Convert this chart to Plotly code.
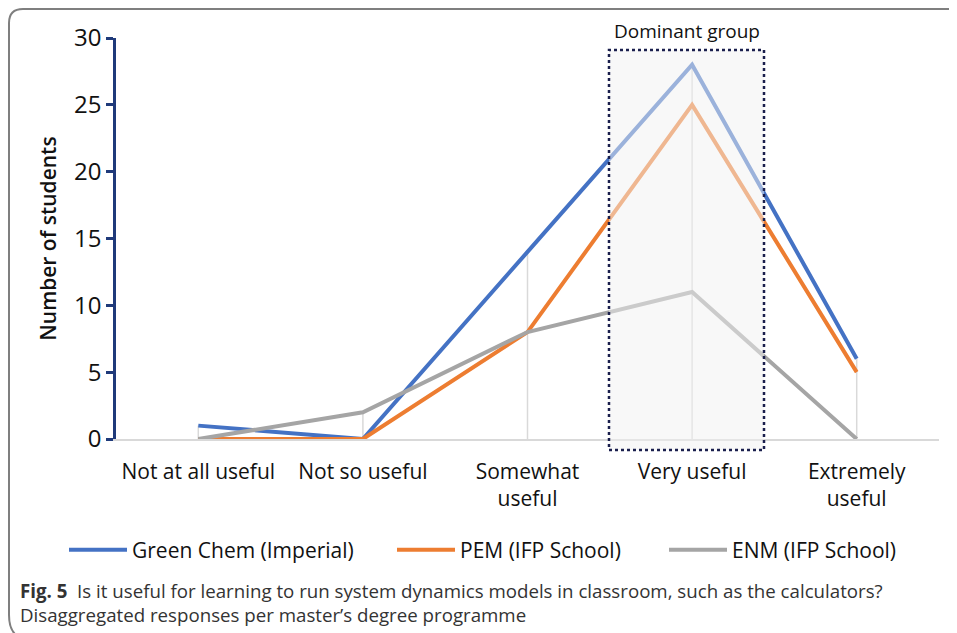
import plotly.graph_objects as go

categories = ["Not at all useful", "Not so useful", "Somewhat<br>useful", "Very useful", "Extremely<br>useful"]
green_chem = [1, 0, 14, 28, 6]
pem = [0, 0, 8, 25, 5]
enm = [0, 2, 8, 11, 0]
series_names = ["Green Chem (Imperial)", "PEM (IFP School)", "ENM (IFP School)"]
y_ticks = [0, 5, 10, 15, 20, 25, 30]

# page body has an 8px margin; work in screen pixels and convert
OFF = 8
W, H = 957 - OFF, 633 - OFF
L = 116 - OFF
T = 38 - OFF
PLOT_R = 939 - OFF
PLOT_B = 439 - OFF
R = W - PLOT_R
B = H - PLOT_B
pw, ph = PLOT_R - L, PLOT_B - T

def px(x):
    return (x - OFF - L) / pw

def py(y):
    return (PLOT_B - (y - OFF)) / ph

FONT = "Open Sans, Noto Sans, sans-serif"
fig = go.Figure()

xs = list(range(len(categories)))
# drop lines
dx, dy = [], []
for i, vals in enumerate(zip(green_chem, pem, enm)):
    dx += [i, i, None]
    dy += [0, max(vals), None]
fig.add_trace(go.Scatter(x=dx, y=dy, mode="lines", line=dict(color="#d9d9d9", width=1.5),
                         showlegend=False, hoverinfo="skip"))

colors = ["#4472C4", "#ED7D31", "#A5A5A5"]
legend_ids = ["legend", "legend2", "legend3"]
for name, vals, c, lg in zip(series_names, [green_chem, pem, enm], colors, legend_ids):
    fig.add_trace(go.Scatter(x=xs, y=vals, mode="lines", name=name, legend=lg,
                             line=dict(color=c, width=4)))

shapes = []
# dominant group box
shapes.append(dict(type="rect", xref="paper", yref="paper", x0=px(609), x1=px(764), y0=py(450), y1=py(50),
                   fillcolor="rgba(242,242,242,0.5)", line=dict(color="#1a1f4d", width=2.5, dash="dot"),
                   layer="above"))
# frame (top and left borders with rounded corners)
r = 14
fx, fy = 9, 9
path = (f"M {px(W+OFF+5)},{py(fy)} L {px(fx+r)},{py(fy)} Q {px(fx)},{py(fy)} {px(fx)},{py(fy+r)} "
        f"L {px(fx)},{py(633-4-r)} Q {px(fx)},{py(633-4)} {px(fx+r/2)},{py(633+2)}")
shapes.append(dict(type="path", xref="paper", yref="paper", path=path,
                   line=dict(color="#7f7f7f", width=2)))

annotations = [
    dict(text="Dominant group", xref="paper", yref="paper", x=px(687), y=py(31),
         showarrow=False, font=dict(family=FONT, size=19, color="#111"), xanchor="center", yanchor="middle"),
    dict(text="<b>Fig. 5</b>  Is it useful for learning to run system dynamics models in classroom, such as the calculators?<br>Disaggregated responses per master’s degree programme",
         xref="paper", yref="paper", x=px(18), y=py(602), xanchor="left", yanchor="middle", align="left",
         showarrow=False, font=dict(family=FONT, size=18.7, color="#333")),
]

def leg(xs_px):
    return dict(orientation="h", x=px(xs_px), y=py(550), xanchor="left", yanchor="middle",
                font=dict(family=FONT, size=21, color="#111"), itemwidth=58, bgcolor="rgba(0,0,0,0)")

fig.update_layout(
    width=W, height=H, margin=dict(l=L, r=R, t=T, b=B),
    paper_bgcolor="white", plot_bgcolor="white",
    shapes=shapes, annotations=annotations,
    font=dict(family=FONT, size=21, color="#111"),
    showlegend=True,
    legend=leg(64), legend2=leg(392), legend3=leg(664),
    xaxis=dict(range=[-0.5, 4.5], tickmode="array", tickvals=xs, ticktext=categories,
               showgrid=False, zeroline=False, showline=True, linecolor="#d9d9d9", linewidth=1.5,
               ticks="", ticklabelstandoff=13, tickfont=dict(family=FONT, size=21, color="#111")),
    yaxis=dict(range=[0, 30], tickmode="array", tickvals=y_ticks, showgrid=False, zeroline=False,
               showline=True, linecolor="#1f3a7a", linewidth=2.5, ticks="outside", ticklen=7,
               tickwidth=2.5, tickcolor="#1f3a7a",
               tickfont=dict(family=FONT, size=24, color="#111"),
               title=dict(text="Number of students", font=dict(family=FONT, size=21, color="#111", weight=600),
                          standoff=12)),
)

fig.write_html("out.html")
